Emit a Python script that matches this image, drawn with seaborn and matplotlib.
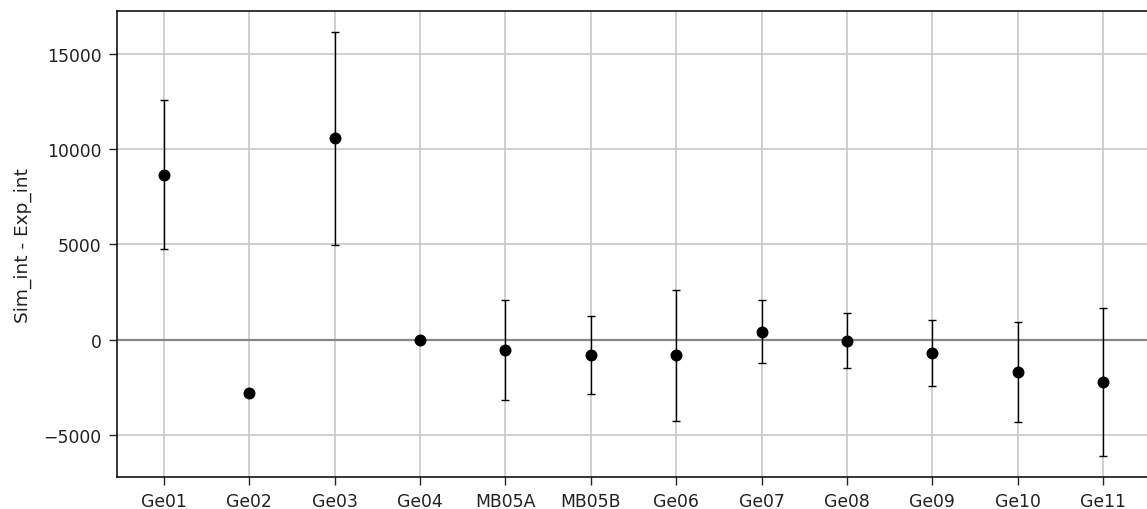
import matplotlib
matplotlib.use("Agg")
import matplotlib.pyplot as plt
import seaborn as sns
import pandas as pd

# Detector labels and simulated-minus-experimental intensity differences
detectors = ["Ge01", "Ge02", "Ge03", "Ge04", "MB05A", "MB05B",
             "Ge06", "Ge07", "Ge08", "Ge09", "Ge10", "Ge11"]
diff = [8650, -2830, 10550, -50, -550, -820,
        -820, 420, -70, -700, -1680, -2230]
uncert = [3900, 0, 5570, 0, 2620, 2050,
          3430, 1670, 1440, 1740, 2620, 3870]

df = pd.DataFrame({"detector": detectors, "diff": diff, "err": uncert})

sns.set_style("ticks")
plt.rcParams["font.family"] = ["DejaVu Sans"]

fig = plt.figure(figsize=(11.47, 5.10), dpi=100)
ax = fig.add_axes([0.102, 0.0627, 0.9006, 0.9138])

ax.grid(True, color="#c8c8c8", linewidth=1.2, zorder=0)
ax.axhline(0, color="#888888", linewidth=1.6, zorder=1)

ax.errorbar(df["detector"], df["diff"], yerr=df["err"], fmt="none",
            ecolor="black", elinewidth=1.0, capsize=3, capthick=1.0,
            zorder=2)
sns.scatterplot(data=df, x="detector", y="diff", color="black",
                s=74, edgecolor="black", linewidth=0, zorder=3, ax=ax)

ax.set_xlim(-0.55, len(detectors) - 0.45)
ax.set_xlabel("")
ax.set_ylabel("Sim_int - Exp_int", fontsize=13.3, labelpad=8,
              color="#222222")
for side in ["top", "right", "left", "bottom"]:
    ax.spines[side].set_visible(True)
    ax.spines[side].set_color("black")
    ax.spines[side].set_linewidth(1.1)
ax.tick_params(direction="out", length=5.5, width=1.0, pad=5.5,
               labelsize=12.4, labelcolor="#222222")

fig.savefig("out.png", dpi=100)
